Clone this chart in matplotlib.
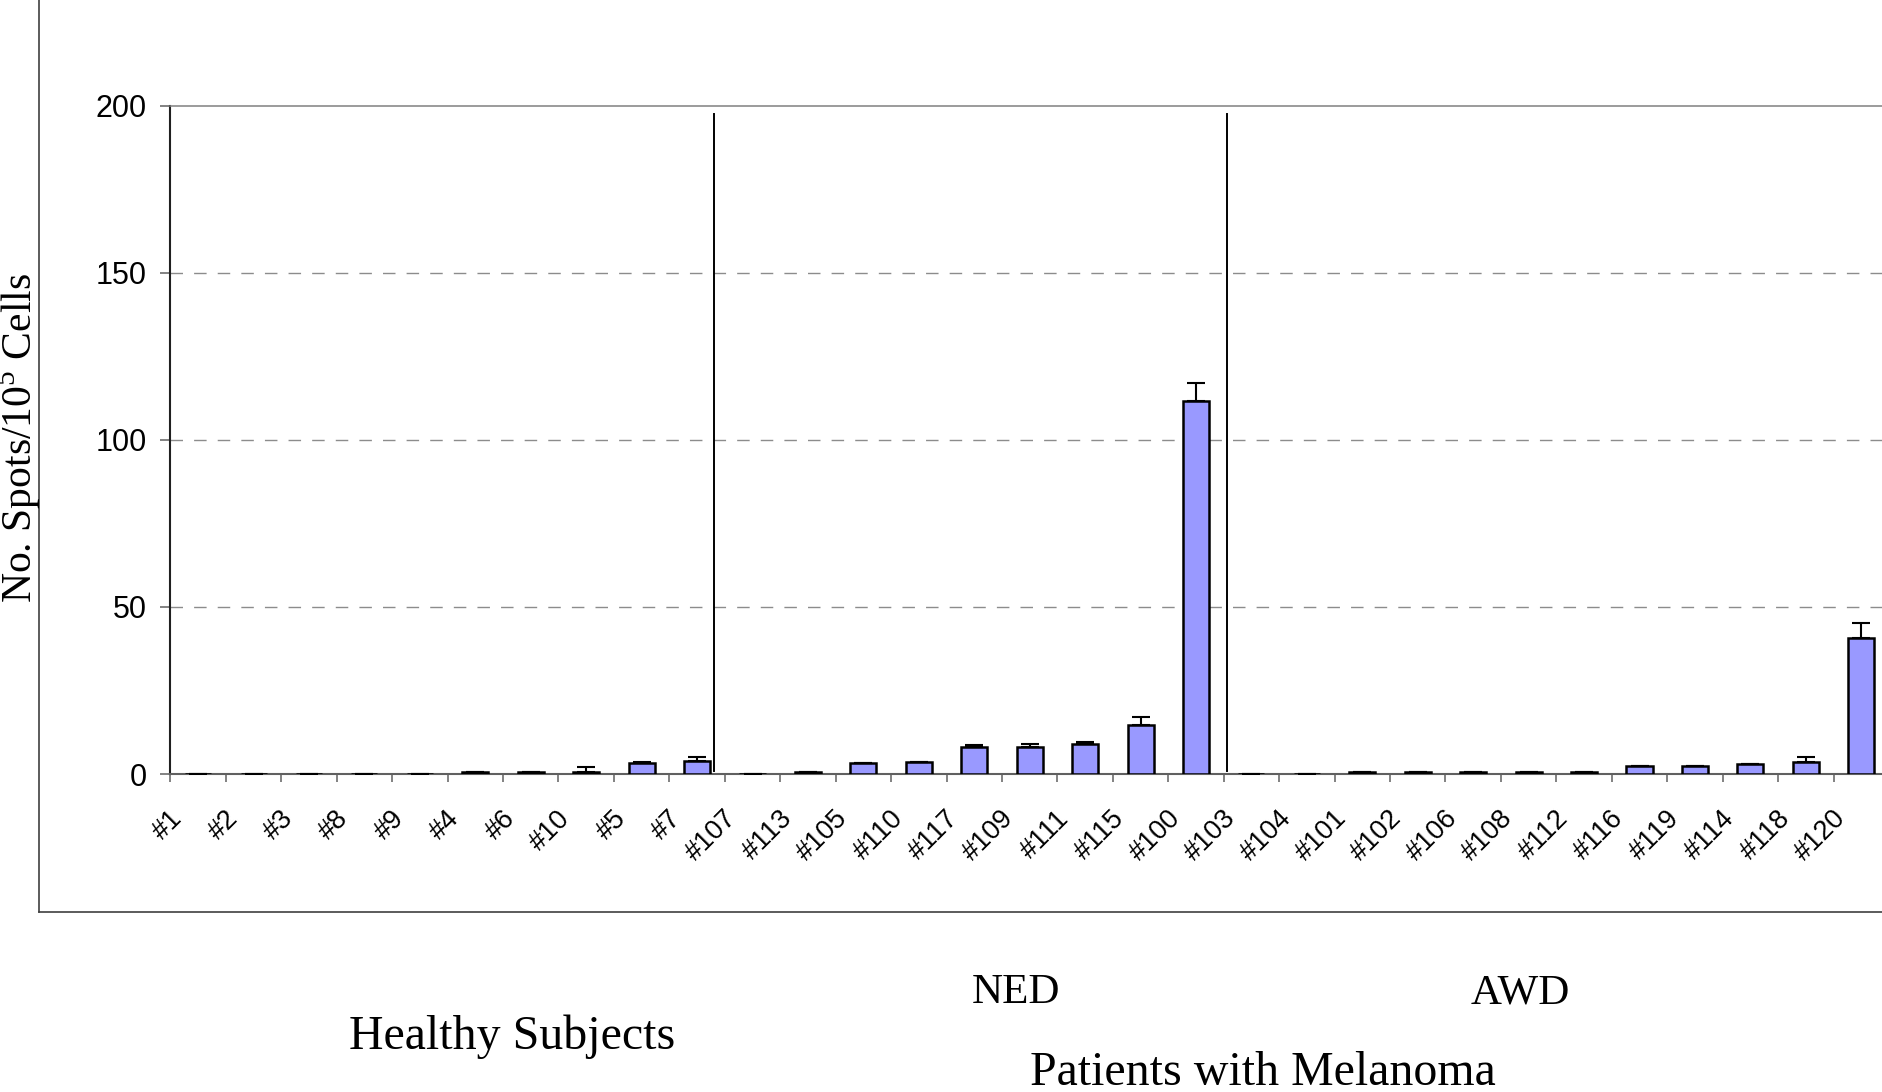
import numpy as np
import matplotlib.pyplot as plt
from matplotlib.lines import Line2D

plt.rcParams['mathtext.fontset'] = 'custom'
plt.rcParams['mathtext.rm'] = 'Liberation Serif'

# Données (spots / 10^5 cellules)
patients = ["#1", "#2", "#3", "#8", "#9", "#4", "#6", "#10", "#5", "#7",
            "#107", "#113", "#105", "#110", "#117", "#109", "#111", "#115", "#100",
            "#103", "#104", "#101", "#102", "#106", "#108", "#112", "#116", "#119",
            "#114", "#118", "#120"]
valeurs = [0, 0, 0, 0, 0, 0.6, 0.6, 0.6, 3.2, 3.8,
           0, 0.6, 3.2, 3.6, 8.2, 8.2, 8.9, 14.8, 111.7,
           0, 0, 0.6, 0.6, 0.6, 0.6, 0.6, 2.3, 2.3, 3.1, 3.7, 40.7]
erreurs = [0, 0, 0, 0, 0, 0, 0, 1.6, 0.5, 1.4,
           0, 0, 0, 0, 0.6, 0.7, 0.8, 2.3, 5.2,
           0, 0, 0, 0, 0, 0, 0, 0, 0, 0, 1.5, 4.5]
separateurs = [9.31, 18.56]

W, H = 1882, 1092
fig = plt.figure(figsize=(W / 100, H / 100), dpi=100)
ax = fig.add_axes([170.4 / W, 1 - 774 / H, (1889 - 170.4) / W, (774 - 105.6) / H])

x = np.arange(len(patients))
ax.bar(x, valeurs, width=0.47, color="#9999FF", edgecolor="black", linewidth=1.8, zorder=3)
ax.errorbar(x, valeurs, yerr=[np.zeros(len(x)), erreurs], fmt="none", ecolor="black",
            elinewidth=1.5, capsize=6.8, capthick=1.5, zorder=4)

for s in separateurs:
    ax.plot([s, s], [1.0, 197.5], color="black", linewidth=1.4, zorder=5)

ax.set_xlim(-0.5, len(patients) - 0.5)
ax.set_ylim(0, 200)
ax.set_yticks([0, 50, 100, 150, 200])
ax.set_yticklabels(["0", "50", "100", "150", "200"], family="Liberation Sans", fontsize=22)
ax.set_xticks(np.arange(-0.5, len(patients), 1))
ax.set_xticklabels([])
ax.tick_params(axis="x", direction="out", length=5.8, width=1.1, color="#606060")
ax.tick_params(axis="y", direction="out", length=7.2, width=1.1, color="#606060", pad=10)

for yv in [50, 100, 150]:
    ax.axhline(yv, color="#8c8c8c", linewidth=1.0, linestyle=(0, (9, 8)), zorder=1)

ax.spines["top"].set_color("#808080")
ax.spines["top"].set_linewidth(1.1)
ax.spines["left"].set_color("#202020")
ax.spines["left"].set_linewidth(1.5)
ax.spines["bottom"].set_color("#606060")
ax.spines["bottom"].set_linewidth(1.5)
ax.spines["right"].set_visible(False)

for i, p in enumerate(patients):
    ax.text(i - 0.19, -0.047, p, transform=ax.get_xaxis_transform(), rotation=45,
            ha="right", va="top", family="Liberation Sans", fontsize=19.5)

fig.text(19 / W, 1 - 438 / H, r"No. Spots/10$^{5}$ Cells", rotation=90, ha="center",
         va="center", family="Liberation Serif", fontsize=30)

# textes des groupes
fig.text(512 / W, 1 - 1049 / H, "Healthy Subjects", ha="center", va="baseline",
         family="Liberation Serif", fontsize=34.5)
fig.text(1016 / W, 1 - 1003 / H, "NED", ha="center", va="baseline",
         family="Liberation Serif", fontsize=31)
fig.text(1520 / W, 1 - 1003 / H, "AWD", ha="center", va="baseline",
         family="Liberation Serif", fontsize=31)
fig.text(1263 / W, 1 - 1085 / H, "Patients with Melanoma", ha="center", va="baseline",
         family="Liberation Serif", fontsize=34.5)

# cadre extérieur
x0 = 38.5 / W
y0 = 1 - 912 / H
fig.add_artist(Line2D([x0, x0], [y0, 1.01], color="#404040", linewidth=1.2, transform=fig.transFigure))
fig.add_artist(Line2D([x0, 1.01], [y0, y0], color="#404040", linewidth=1.2, transform=fig.transFigure))

fig.savefig("out.png", dpi=100)
